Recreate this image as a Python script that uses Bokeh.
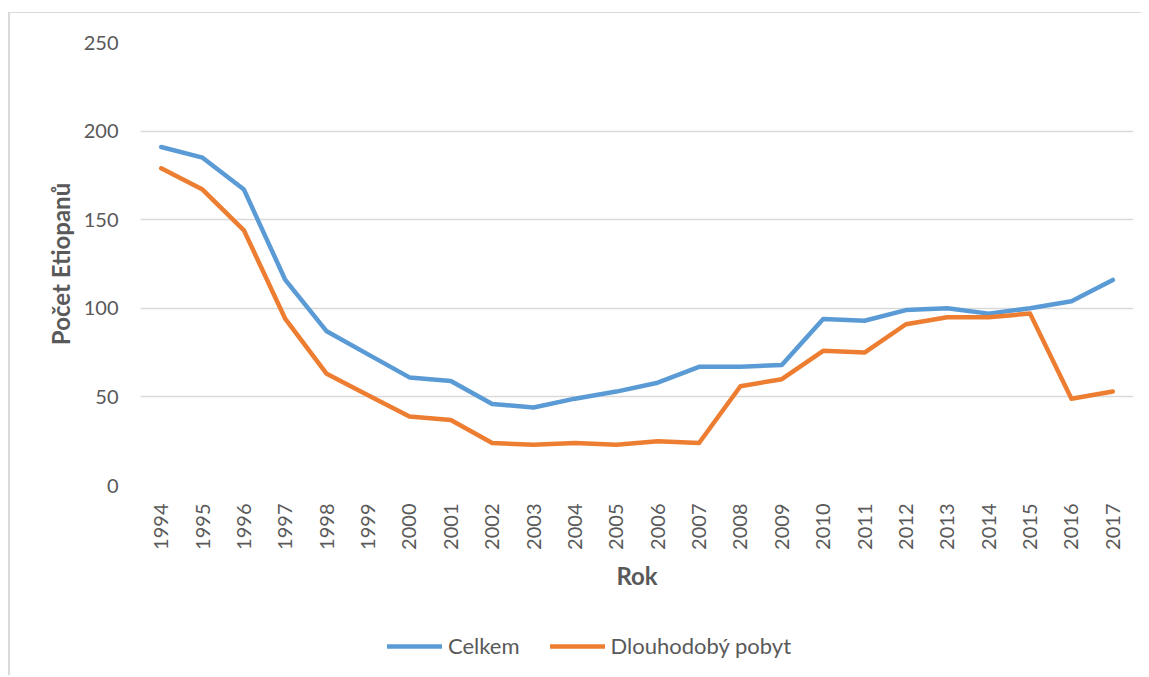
import math
from bokeh.plotting import figure
from bokeh.layouts import column
from bokeh.models import Range1d, FixedTicker, Legend, LegendItem
from bokeh.embed import file_html
from bokeh.resources import INLINE

years = list(range(1994, 2018))
celkem = [191, 185, 167, 116, 87, 74, 61, 59, 46, 44, 49, 53, 58, 67, 67, 68, 94, 93, 99, 100, 97, 100, 104, 116]
dlouhodoby = [179, 167, 144, 94, 63, 51, 39, 37, 24, 23, 24, 23, 25, 24, 56, 60, 76, 75, 91, 95, 95, 97, 49, 53]
y_ticks = [0, 50, 100, 150, 200, 250]
series_names = ["Celkem", "Dlouhodobý pobyt"]
colors = ["#5B9BD5", "#ED7D31"]

FONT = "Lato"
GRAY = "#595959"

p = figure(width=1131, height=590, output_backend="svg", toolbar_location=None,
           x_range=Range1d(1993.5, 2017.5), y_range=Range1d(0, 250),
           min_border_left=130, min_border_right=8, min_border_top=29, min_border_bottom=118)
p.outline_line_color = None
p.background_fill_color = "white"
p.border_fill_color = "white"

p.line(years, celkem, line_color=colors[0], line_width=4.5, line_join="round", line_cap="round")
p.line(years, dlouhodoby, line_color=colors[1], line_width=4.5, line_join="round", line_cap="round")

p.xgrid.grid_line_color = None
p.ygrid.grid_line_color = "#D9D9D9"
p.ygrid.grid_line_width = 1.5

p.xaxis.ticker = FixedTicker(ticks=years)
p.yaxis.ticker = FixedTicker(ticks=y_ticks)
for ax in (p.xaxis[0], p.yaxis[0]):
    ax.axis_line_color = None
    ax.major_tick_line_color = None
    ax.minor_tick_line_color = None
    ax.major_label_text_font = FONT
    ax.major_label_text_font_size = "20px"
    ax.major_label_text_color = GRAY
    ax.axis_label_text_font = FONT
    ax.axis_label_text_font_size = "24px"
    ax.axis_label_text_font_style = "bold"
    ax.axis_label_text_color = GRAY

p.xaxis.major_label_orientation = math.pi / 2
p.xaxis.major_label_standoff = 12
p.yaxis.major_label_standoff = 16
p.xaxis.axis_label = "Rok"
p.yaxis.axis_label = "Počet Etiopanů"
p.xaxis.axis_label_standoff = 8
p.yaxis.axis_label_standoff = 6

# legend strip below the chart (its lines fall outside its own 0..1 ranges, only the legend shows)
p2 = figure(width=1131, height=72, output_backend="svg", toolbar_location=None,
            x_range=Range1d(0, 1), y_range=Range1d(0, 1),
            x_axis_location=None, y_axis_location=None,
            min_border_left=0, min_border_right=0, min_border_top=0, min_border_bottom=0)
p2.outline_line_color = None
p2.xgrid.grid_line_color = None
p2.ygrid.grid_line_color = None
p2.border_fill_color = "white"
l1 = p2.line(years, celkem, line_color=colors[0], line_width=4.5, line_cap="round")
l2 = p2.line(years, dlouhodoby, line_color=colors[1], line_width=4.5, line_cap="round")

legend = Legend(items=[LegendItem(label=series_names[0], renderers=[l1]),
                       LegendItem(label=series_names[1], renderers=[l2])],
                location=(247, 16), orientation="horizontal",
                glyph_width=55, glyph_height=20, label_height=20, label_standoff=6,
                spacing=30, padding=0, margin=0,
                label_text_font=FONT, label_text_font_size="22px", label_text_color=GRAY,
                border_line_color=None, background_fill_alpha=0)
p2.add_layout(legend, "center")

layout = column(p, p2, spacing=0)
layout.styles = {"border-top": "1px solid #d9d9d9", "border-left": "2px solid #d9d9d9",
                 "position": "relative", "top": "12px", "left": "8px"}

open("out.html", "w").write(file_html(layout, INLINE))
